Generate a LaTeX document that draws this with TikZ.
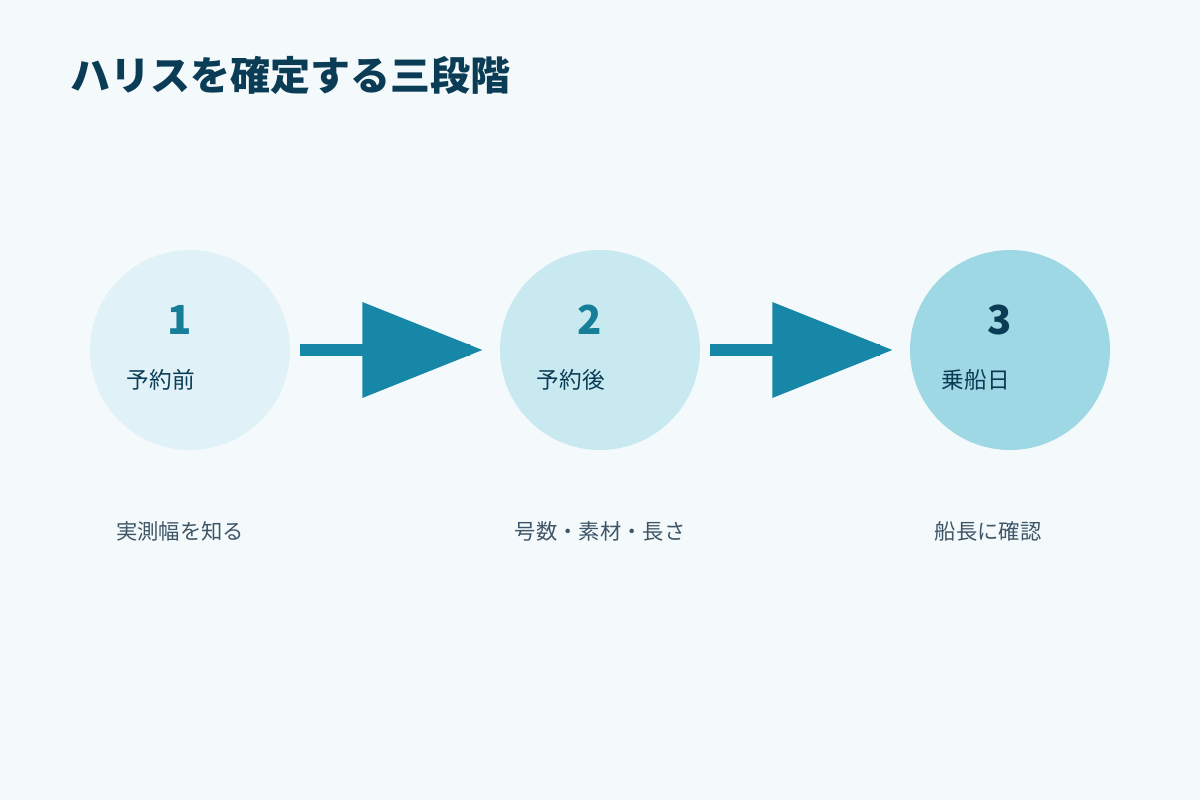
\documentclass[tikz,border=0pt]{standalone}
\usepackage{fontspec}
\setmainfont{Noto Sans CJK JP}
\begin{document}
\begin{tikzpicture}[x=0.75pt,y=-0.75pt,
  stepc/.style={circle,minimum size=150pt,inner sep=0pt},
  num/.style={font=\bfseries\fontsize{30}{30}\selectfont},
  lab/.style={font=\fontsize{17}{17}\selectfont,text=dark,anchor=west},
  desc/.style={font=\fontsize{16}{16}\selectfont,text=gray1},
  arr/.style={fill=blue1}]
\definecolor{bg}{HTML}{F4FAFC}
\definecolor{dark}{HTML}{0B3C55}
\definecolor{teal1}{HTML}{177E99}
\definecolor{blue1}{HTML}{1787A8}
\definecolor{gray1}{HTML}{3D5566}
\definecolor{c1}{HTML}{E0F2F7}
\definecolor{c2}{HTML}{C9E9F0}
\definecolor{c3}{HTML}{9FD8E5}
\fill[bg] (0,0) rectangle (1200,800);
\useasboundingbox (0,0) rectangle (1200,800);
\node[anchor=west,text=dark,font=\bfseries\fontsize{30}{30}\selectfont] (title) at (66,75) {ハリスを確定する三段階};
\node[stepc,fill=c1] (s1) at (190,350) {};
\node[stepc,fill=c2] (s2) at (600,350) {};
\node[stepc,fill=c3] (s3) at (1010,350) {};
\node[num,text=teal1] (n1) at (180,320) {1};
\node[num,text=teal1] (n2) at (590,320) {2};
\node[num,text=dark] (n3) at (1000,320) {3};
\node[lab] (l1) at (122,380) {予約前};
\node[lab] (l2) at (532,380) {予約後};
\node[lab] (l3) at (937,380) {乗船日};
\node[desc] (d1) at (180,531) {実測幅を知る};
\node[desc] (d2) at (600,531) {号数・素材・長さ};
\node[desc] (d3) at (988,531) {船長に確認};
\foreach \a/\b in {s1/s2,s2/s3}{
  \path (\a.east) ++(10,0) coordinate (p);
  \fill[arr] (p) ++(0,-6) rectangle ++(170,12);
  \fill[arr] (p) ++(62,-48) -- ++(120,48) -- ++(-120,48) -- cycle;
}
\end{tikzpicture}
\end{document}
